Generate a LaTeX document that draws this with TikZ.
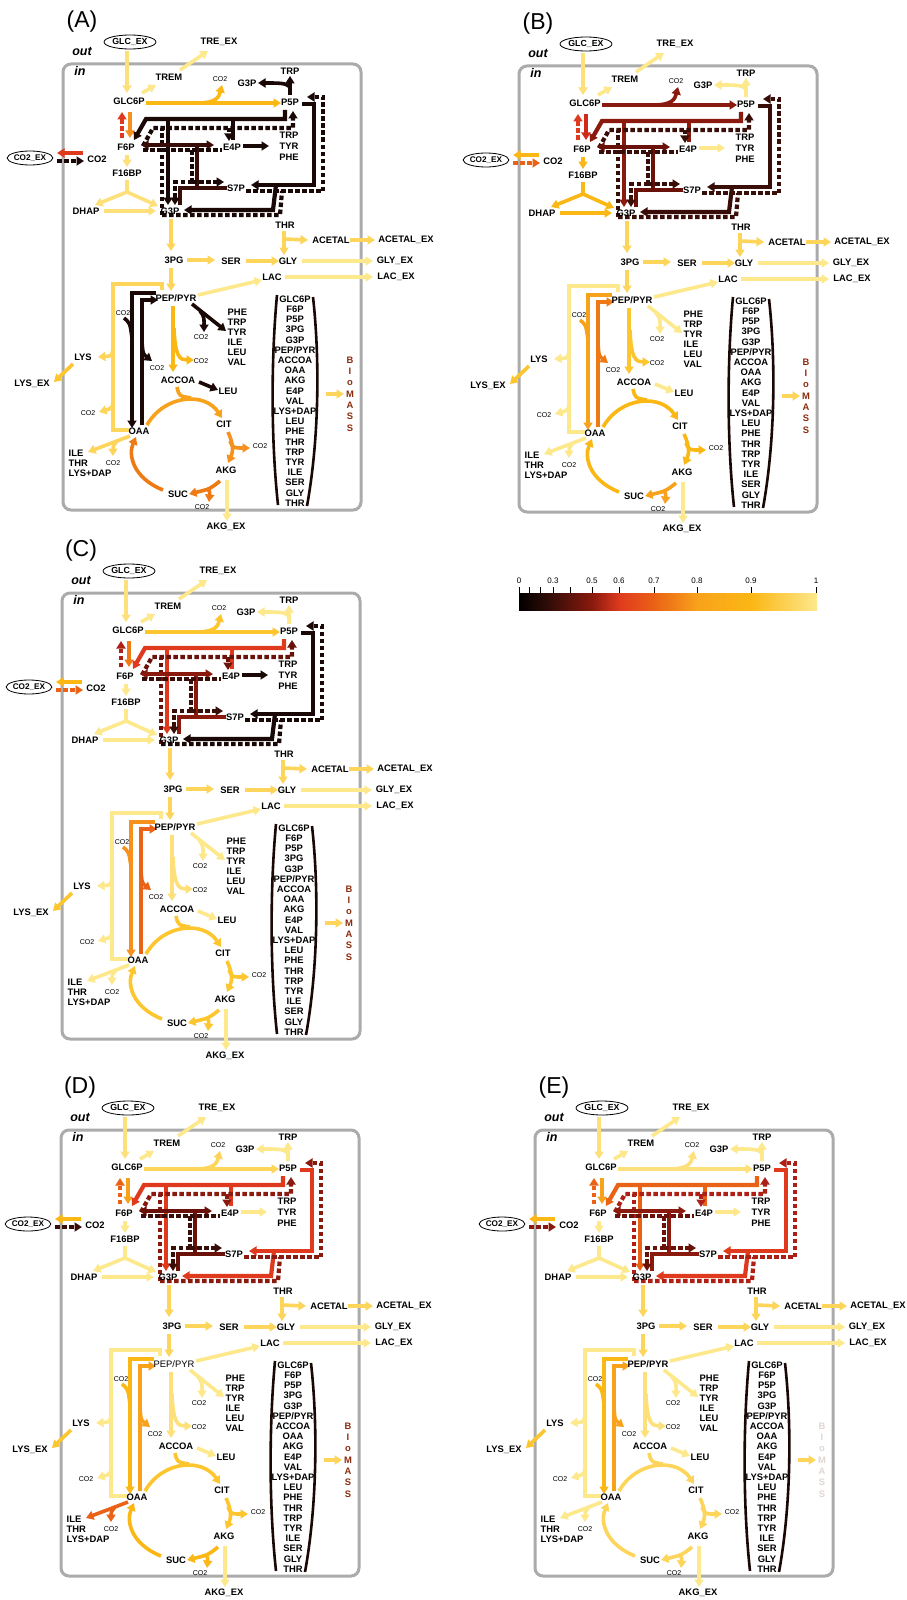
\documentclass[tikz,border=0pt]{standalone}
\usepackage{fontspec}
\setmainfont{Liberation Sans}
\usetikzlibrary{arrows.meta,shapes.geometric}

\definecolor{kP}{HTML}{FEE88C}
\definecolor{kY0}{HTML}{FDE07A}
\definecolor{kY1}{HTML}{FDD55A}
\definecolor{kY2}{HTML}{FDC62F}
\definecolor{kY3}{HTML}{FBB714}
\definecolor{kO1}{HTML}{F8A21B}
\definecolor{kO2}{HTML}{F6911D}
\definecolor{kO3}{HTML}{EF7A14}
\definecolor{kO4}{HTML}{EA6216}
\definecolor{kR1}{HTML}{DF3A1E}
\definecolor{kR2}{HTML}{D02A1A}
\definecolor{kDR1}{HTML}{AE2016}
\definecolor{kDR2}{HTML}{8A1A0E}
\definecolor{kDR3}{HTML}{6A120A}
\definecolor{kBR}{HTML}{3A0E08}
\definecolor{kBK}{HTML}{1A0806}
\definecolor{kBio}{HTML}{8B2C0E}
\definecolor{kBioF}{HTML}{E2D6D0}
\definecolor{kBox}{HTML}{ABABAB}

\tikzset{
  ln/.style={line width=3.6pt},
  pw/.style={line width=4.2pt},
  ar/.style={line width=3.6pt,-{Triangle[length=7.5pt,width=9pt]}},
  arr/.style={line width=3.6pt,{Triangle[length=7.5pt,width=9pt]}-{Triangle[length=7.5pt,width=9pt]}},
  dsh/.style={dash pattern=on 4.5pt off 2.5pt},
  lbl/.style={font=\bfseries\fontsize{9.4}{10}\selectfont,inner sep=0.5pt,text=black},
  sm/.style={font=\fontsize{7}{7}\selectfont,inner sep=0pt,text=black},
  ellip/.style={draw=black,ellipse,line width=0.8pt,inner sep=0pt,font=\bfseries\fontsize{8.8}{9}\selectfont},
  bracket/.style={line width=2.6pt,draw=kBK},
  biol/.style={font=\bfseries\fontsize{9.4}{10}\selectfont,inner sep=0pt},
  boxst/.style={line width=3pt,draw=kBox,rounded corners=8pt},
  inout/.style={font=\bfseries\itshape\fontsize{12.5}{12}\selectfont,inner sep=0pt},
}

\newcommand\defcols{%
  \colorlet{cglc}{kY0}\colorlet{ctrem}{kP}\colorlet{cox}{kY3}\colorlet{cpp}{kP}%
  \colorlet{cpgf}{kO2}\colorlet{cpgr}{kR1}\colorlet{cco2o}{kY3}\colorlet{cco2i}{kO4}%
  \colorlet{cgly}{kP}\colorlet{ctkAf}{kR1}\colorlet{ctkAr}{kDR2}\colorlet{ctalf}{kDR2}%
  \colorlet{ctalr}{kBR}\colorlet{ctkBf}{kBK}\colorlet{ctkBr}{kBK}\colorlet{ce4p}{kP}%
  \colorlet{clow}{kY1}\colorlet{cpale}{kP}\colorlet{cpa}{kY0}\colorlet{caro}{kP}%
  \colorlet{cleu}{kP}\colorlet{cppc}{kY3}\colorlet{cpck}{kO1}\colorlet{clys}{kP}%
  \colorlet{clysex}{kY2}\colorlet{coc}{kY2}\colorlet{cca}{kY2}\colorlet{cas}{kY2}%
  \colorlet{cso}{kY2}\colorlet{cile}{kP}\colorlet{cbio}{kY1}\colorlet{cbiot}{kBio}}

% #1 panel letter, #2 dx, #3 dy, #4 font series of PEP/PYR
\newcommand\pnl[4]{%
\begin{scope}[shift={(#2,#3)}]
  \draw[boxst] (63,64) rectangle (361,510);
  % glucose uptake, trehalose
  \draw[ar,cglc] (127,51) -- (127,93);
  \draw[ar,ctrem] (142,93) -- (156,85);
  \draw[ar,ctrem] (180,70) -- (208,51);
  % oxidative PPP
  \draw[ar,cox] (146,103) -- (281,103);
  \draw[ar,cox] (198,103) .. controls (216,103) and (219,97) .. (222,85);
  % P5P -> G3P + TRP
  \draw[ln,cpp] (290,95) -- (290,86);
  \draw[ar,cpp] (290,87) .. controls (286,83) and (280,83) .. (258,83);
  \draw[ar,cpp] (290,89) -- (290,76);
  % PGI
  \draw[ar,cpgf] (130,112) -- (130,138);
  \draw[ar,dsh,cpgr] (122,138) -- (122,112);
  % CO2 exchange
  \draw[ar,cco2o] (83,153) -- (57,153);
  \draw[ar,dsh,cco2i] (57,161) -- (84,161);
  % upper glycolysis
  \draw[ar,cgly] (127,155) -- (127,167);
  \draw[ln,cgly] (127,180) -- (127,193);
  \draw[ar,cgly] (127,192) -- (95,205);
  \draw[ar,cgly] (127,192) -- (158,206);
  \draw[ar,cgly] (104,211) -- (156,211);
  % transketolase 2 forward
  \draw[ar,pw,ctkAf] (285,110) -- (285,119) -- (146,119) -- (134,140);
  \draw[ar,pw,ctkAf] (168,119) -- (168,205);
  \draw[pw,ctkAf] (233,140) -- (233,119);
  % transketolase 2 reverse
  \draw[ar,pw,dsh,ctkAr] (143,146) -- (153,128) -- (293,128) -- (293,111);
  \draw[pw,dsh,ctkAr] (162,215) -- (162,128);
  \draw[ar,pw,dsh,ctkAr] (229,128) -- (229,141);
  % transaldolase forward
  \draw[arr,pw,ctalf] (141,145) -- (214,145);
  \draw[pw,ctalf] (197,145) -- (197,188);
  \draw[pw,ctalf] (180,205) -- (180,188) -- (227,188);
  % transaldolase reverse
  \draw[pw,dsh,ctalr] (143,150) -- (222,150);
  \draw[pw,dsh,ctalr] (192,150) -- (192,182);
  \draw[ar,pw,dsh,ctalr] (192,182) -- (175,182) -- (175,205);
  \draw[ar,pw,dsh,ctalr] (192,182) -- (224,182);
  % transketolase 1 forward
  \draw[ar,pw,ctkBf] (302,104) -- (314,104) -- (314,185) -- (251,185);
  \draw[ar,pw,ctkBf] (276,185) -- (273,210) -- (184,210);
  % transketolase 1 reverse
  \draw[ar,pw,dsh,ctkBr] (246,191) -- (323,191) -- (323,97) -- (307,97);
  \draw[pw,dsh,ctkBr] (162,215) -- (280,215) -- (282,191);
  % E4P -> aromatics
  \draw[ar,ce4p] (243,146) -- (269,146);
  % lower glycolysis, serine, glycine
  \draw[ar,clow] (171,219) -- (171,251);
  \draw[ar,clow] (187,260) -- (215,260);
  \draw[ar,clow] (246,261) -- (279,261);
  \draw[ar,cpale] (302,261) -- (373,261);
  \draw[ar,clow] (284,231) -- (284,255);
  \draw[ar,clow] (284,239) -- (308,240);
  \draw[ar,clow] (350,240) -- (375,240);
  \draw[ar,clow] (171,268) -- (171,291);
  \draw[ar,cpale] (198,295) -- (262,280);
  \draw[ar,cpale] (285,277) -- (373,277);
  % PEP -> ACCOA
  \draw[ar,cpa] (173,306) -- (173,372);
  \draw[ar,cpa] (174,328) .. controls (175,357) and (180,360) .. (194,360);
  % PEP -> aromatics etc
  \draw[ar,caro] (192,304) -- (226,331);
  \draw[ar,caro] (200,311) .. controls (205,316) and (204,322) .. (204,332);
  \draw[ar,cleu] (199,382) -- (218,390);
  % PPC and PCK
  \draw[ar,cppc] (156,293) -- (132,293) -- (132,428);
  \draw[ln,cppc] (124,318) .. controls (130,323) .. (132,338);
  \draw[ar,cpck] (142,425) -- (142,300) -- (158,300);
  \draw[ar,cpck] (142,342) .. controls (143,354) .. (152,361);
  % lysine
  \draw[ln,clys] (162,290) -- (162,284) -- (113,284) -- (113,430) -- (129,430);
  \draw[ar,clys] (113,348) .. controls (112,356) .. (98,357);
  \draw[ar,clys] (113,394) .. controls (113,408) .. (99,412);
  \draw[ar,clysex] (73,364) -- (54,382);
  % TCA cycle
  \draw[ar,coc] (147,425) .. controls (165,394) and (205,392) .. (222,418);
  \draw[ln,coc] (177,387) .. controls (179,396) .. (191,398);
  \draw[ar,cca] (228,432) .. controls (234,445) and (233,452) .. (228,463);
  \draw[ar,cca] (230,441) .. controls (233,448) .. (250,448);
  \draw[ar,cas] (220,481) .. controls (210,489) .. (189,494);
  \draw[ar,cas] (207,488) .. controls (210,492) .. (209,502);
  \draw[ar,cso] (163,490) .. controls (133,478) and (128,455) .. (136,437);
  \draw[ar,cpale] (227,480) -- (227,521);
  \draw[ar,cile] (130,436) -- (88,452);
  \draw[ar,cile] (117,441) .. controls (113,446) .. (113,456);
  % biomass
  \draw[bracket] (277,295) .. controls (271,360) and (271,440) .. (278,505);
  \draw[bracket] (313,297) .. controls (320,360) and (319,440) .. (307,506);
  \draw[ar,cbio] (326,394) -- (344,394);
  % labels
  \node[font=\fontsize{23}{24}\selectfont,inner sep=0pt] (#1lab) at (82,22) {(#1)};
  \node[ellip,minimum width=52pt,minimum height=14pt] (#1glcex) at (130,42) {GLC\_EX};
  \node[inout] (#1out) at (82,51) {out};
  \node[inout] (#1in) at (80,71) {in};
  \node[lbl] (#1treex) at (219,42) {TRE\_EX};
  \node[lbl] (#1trem) at (169,77) {TREM};
  \node[lbl] (#1glcsixp) at (129,101) {GLC6P};
  \node[sm] (#1coa) at (220,79) {CO2};
  \node[lbl] (#1gthreept) at (247,83) {G3P};
  \node[lbl] (#1trpt) at (290,71) {TRP};
  \node[lbl] (#1pfivep) at (290,102) {P5P};
  \node[lbl] (#1fsixp) at (126,147) {F6P};
  \node[lbl] (#1efourp) at (232,147) {E4P};
  \node[lbl] (#1aroa) at (289,135) {TRP};
  \node[lbl] (#1arob) at (289,146) {TYR};
  \node[lbl] (#1aroc) at (289,157) {PHE};
  \node[ellip,minimum width=40pt,minimum height=14pt,font=\bfseries\fontsize{8.2}{9}\selectfont] (#1coex) at (30,158) {CO2\_EX};
  \node[lbl] (#1cotwo) at (97,159) {CO2};
  \node[lbl] (#1fbp) at (127,173) {F16BP};
  \node[lbl] (#1ssevenp) at (236,188) {S7P};
  \node[lbl] (#1dhap) at (86,211) {DHAP};
  \node[lbl] (#1gthreep) at (170,211) {G3P};
  \node[lbl] (#1thr) at (285,225) {THR};
  \node[lbl] (#1acetal) at (331,240) {ACETAL};
  \node[lbl] (#1acetalex) at (406,240) {ACETAL\_EX};
  \node[lbl] (#1pg) at (174,260) {3PG};
  \node[lbl] (#1ser) at (231,261) {SER};
  \node[lbl] (#1gly) at (288,261) {GLY};
  \node[lbl] (#1glyex) at (395,261) {GLY\_EX};
  \node[lbl] (#1lac) at (272,277) {LAC};
  \node[lbl] (#1lacex) at (396,277) {LAC\_EX};
  \node[lbl,font=#4\fontsize{9.4}{10}\selectfont] (#1pep) at (176,298) {PEP/PYR};
  \node[sm] (#1cob) at (123,313) {CO2};
  \node[sm] (#1coc) at (157,368) {CO2};
  \node[sm] (#1cod) at (201,337) {CO2};
  \node[sm] (#1coe) at (201,361) {CO2};
  \foreach \t [count=\i from 0] in {PHE,TRP,TYR,ILE,LEU,VAL}
    \node[lbl,anchor=west] (#1aa\i) at (227,312+10*\i) {\t};
  \node[lbl] (#1lys) at (83,357) {LYS};
  \node[lbl] (#1lysex) at (32,384) {LYS\_EX};
  \node[lbl] (#1accoa) at (178,380) {ACCOA};
  \node[lbl] (#1leu) at (228,391) {LEU};
  \node[sm] (#1cof) at (88,413) {CO2};
  \node[lbl] (#1oaa) at (139,431) {OAA};
  \node[lbl] (#1cit) at (224,424) {CIT};
  \node[sm] (#1cog) at (260,446) {CO2};
  \node[lbl] (#1akg) at (226,470) {AKG};
  \node[lbl] (#1suc) at (178,494) {SUC};
  \node[sm] (#1coh) at (202,507) {CO2};
  \node[lbl] (#1akgex) at (226,527) {AKG\_EX};
  \foreach \t [count=\i from 0] in {ILE,THR,LYS+DAP}
    \node[lbl,anchor=west] (#1il\i) at (68,453+10*\i) {\t};
  \node[sm] (#1coi) at (113,463) {CO2};
  \foreach \t [count=\i from 0] in {GLC6P,F6P,P5P,3PG,G3P,PEP/PYR,ACCOA,OAA,AKG,E4P,VAL,LYS+DAP,LEU,PHE,THR,TRP,TYR,ILE,SER,GLY,THR}
    \node[lbl] (#1bm\i) at (295,299+10.2*\i) {\t};
  \foreach \t [count=\i from 0] in {B,I,o,M,A,S,S}
    \node[biol,text=cbiot] (#1bio\i) at (350,360+11.3*\i) {\t};
\end{scope}}

\begin{document}
\begin{tikzpicture}[x=1pt,y=-1pt]
\useasboundingbox (0,0) rectangle (906,1600);
\fill[white] (0,0) rectangle (906,1600);

% ---------- Panel A
\defcols
\colorlet{cox}{kY3}\colorlet{cpp}{kBK}\colorlet{cpgf}{kO2}\colorlet{cpgr}{kR1}
\colorlet{cco2o}{kR1}\colorlet{cco2i}{kBK}\colorlet{cgly}{kY0}
\colorlet{ctkAf}{kBK}\colorlet{ctkAr}{kBK}\colorlet{ctalf}{kBR}\colorlet{ctalr}{kBK}
\colorlet{ctkBf}{kBK}\colorlet{ctkBr}{kBK}\colorlet{ce4p}{kBK}
\colorlet{cpa}{kY3}\colorlet{caro}{kBK}\colorlet{cleu}{kBK}\colorlet{cppc}{kBK}\colorlet{cpck}{kBK}
\colorlet{clys}{kY1}\colorlet{coc}{kO1}\colorlet{cca}{kO2}\colorlet{cas}{kO3}\colorlet{cso}{kO3}\colorlet{cile}{kY1}
\pnl{A}{0}{0}{\bfseries}

% ---------- Panel B
\defcols
\colorlet{cox}{kDR2}\colorlet{cpp}{kP}\colorlet{cpgf}{kR2}\colorlet{cpgr}{kR1}
\colorlet{cco2o}{kY3}\colorlet{cco2i}{kO4}\colorlet{cgly}{kY3}
\colorlet{ctkAf}{kDR2}\colorlet{ctkAr}{kBR}\colorlet{ctalf}{kDR3}\colorlet{ctalr}{kBR}
\colorlet{ctkBf}{kBR}\colorlet{ctkBr}{kBR}\colorlet{ce4p}{kP}
\colorlet{cpa}{kY2}\colorlet{cppc}{kO1}\colorlet{cpck}{kO3}
\colorlet{coc}{kY3}\colorlet{cca}{kY3}\colorlet{cas}{kO1}\colorlet{cso}{kY3}
\pnl{B}{456}{2}{\bfseries}

% ---------- Panel C
\defcols
\colorlet{cox}{kY2}\colorlet{cpgf}{kO3}\colorlet{cpgr}{kDR1}
\colorlet{ctkAf}{kR1}\colorlet{ctkAr}{kDR3}\colorlet{ctalf}{kDR2}\colorlet{ctalr}{kBR}
\colorlet{ctkBf}{kBK}\colorlet{ctkBr}{kBK}\colorlet{ce4p}{kBK}
\colorlet{cppc}{kO2}\colorlet{cpck}{kO4}
\pnl{C}{-1}{529}{\bfseries}

% ---------- Panel D
\defcols
\colorlet{cox}{kY1}\colorlet{cpgf}{kO1}\colorlet{cpgr}{kO4}\colorlet{cco2i}{kBR}
\colorlet{ctkAf}{kR1}\colorlet{ctkAr}{kDR2}\colorlet{ctalf}{kDR3}\colorlet{ctalr}{kBR}
\colorlet{ctkBf}{kR1}\colorlet{ctkBr}{kDR2}
\colorlet{cppc}{kY3}\colorlet{cpck}{kO1}
\colorlet{coc}{kY2}\colorlet{cas}{kY3}\colorlet{cso}{kY3}\colorlet{cile}{kO4}
\pnl{D}{-2}{1066}{\mdseries}

% ---------- Panel E
\defcols
\colorlet{cox}{kY0}\colorlet{cpgf}{kO1}\colorlet{cpgr}{kO4}\colorlet{cco2i}{kDR2}
\colorlet{ctkAf}{kO4}\colorlet{ctkAr}{kDR1}\colorlet{ctalf}{kDR2}\colorlet{ctalr}{kDR3}
\colorlet{ctkBf}{kR1}\colorlet{ctkBr}{kDR1}
\colorlet{cppc}{kY3}\colorlet{cpck}{kO1}
\colorlet{coc}{kY1}\colorlet{cca}{kY1}\colorlet{cas}{kY1}\colorlet{cso}{kY1}
\colorlet{cbiot}{kBioF}
\pnl{E}{472}{1066}{\bfseries}

% ---------- colour scale
\shade[left color=black,right color=kBR] (519,593) rectangle (553.5,610);
\shade[left color=kBR,right color=kDR2] (553,593) rectangle (592.5,610);
\shade[left color=kDR2,right color=kR1] (592,593) rectangle (619.5,610);
\shade[left color=kR1,right color=kO4] (619,593) rectangle (654.5,610);
\shade[left color=kO4,right color=kO1] (654,593) rectangle (697.5,610);
\shade[left color=kO1,right color=kY3] (697,593) rectangle (751.5,610);
\shade[left color=kY3,right color=kP] (751,593) rectangle (817,610);
\foreach \x in {519,529,540,553,570,592,619,654,697,751,816}
  \draw[line width=1pt] (\x,587) -- (\x,593);
\foreach \x/\t in {519/0,553/0.3,592/0.5,619/0.6,654/0.7,697/0.8,751/0.9,816/1}
  \node[font=\fontsize{8}{8}\selectfont,inner sep=0pt] (sc\t) at (\x,581) {\t};
\end{tikzpicture}
\end{document}
